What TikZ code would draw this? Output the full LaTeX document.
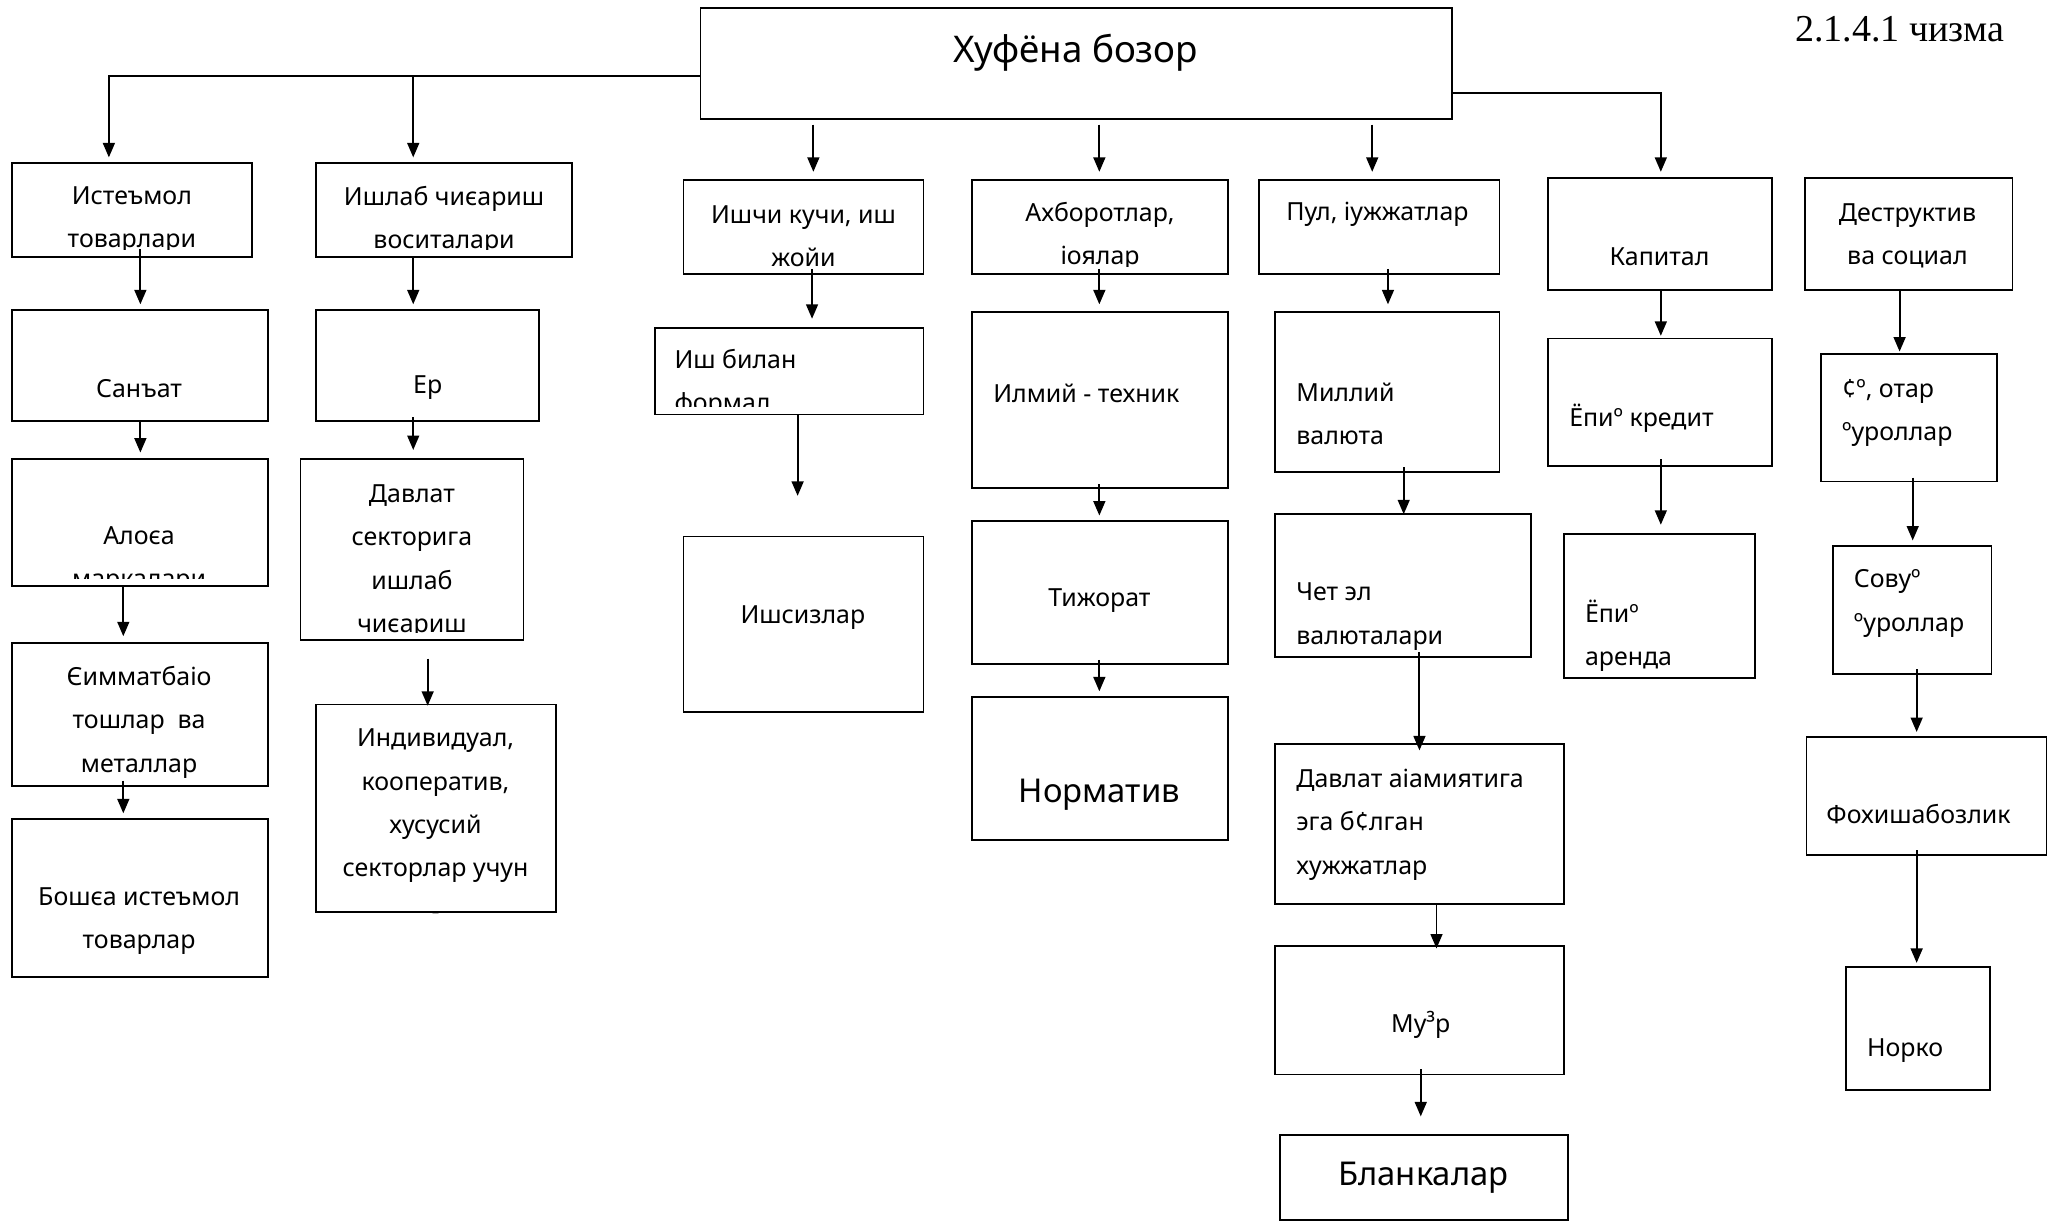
\documentclass[tikz,border=0pt]{standalone}
\usepackage{fontspec}
\setmainfont{Noto Sans}
\newfontfamily\capfont{Liberation Serif}
\usetikzlibrary{arrows.meta,calc}

\begin{document}
\begin{tikzpicture}[x=1pt, y=-1pt,
    box/.style 2 args={draw, line width=1.4pt, minimum width=#1pt, minimum height=#2pt, inner sep=0pt, outer sep=0pt},
    txt/.style={align=center, inner sep=0pt, yshift=-2.5pt, font=\fontsize{19}{33}\selectfont},
    ltxt/.style={align=left, anchor=west, inner sep=0pt, yshift=-2.5pt, font=\fontsize{19}{33}\selectfont},
    big/.style={font=\fontsize{25}{30}\selectfont},
    arr/.style={-{Triangle[length=11pt,width=9pt]}, line width=1.5pt}]
  \useasboundingbox (0,0) rectangle (1568,931);

  % boxes
  \node[box={573}{85}] (main) at (820.5,48.5) {};
  \node[box={183}{72}] (ist) at (100.5,160) {};
  \node[box={195}{72}] (ish) at (338.5,160) {};
  \node[box={183}{72}] (ishchi) at (612.5,173) {};
  \node[box={195}{72}] (axb) at (838.5,173) {};
  \node[box={183}{72}] (pul) at (1051.5,173) {};
  \node[box={171}{85}] (kap) at (1265.5,178.5) {};
  \node[box={158}{85}] (des) at (1455,178.5) {};
  \node[box={195}{85}] (san) at (106.5,278.5) {};
  \node[box={170}{85}] (er) at (326,278.5) {};
  \node[box={205}{66}] (ishb) at (601.5,283) {};
  \node[box={195}{134}] (ilm) at (838.5,305) {};
  \node[box={171}{122}] (mil) at (1057.5,299) {};
  \node[box={171}{97}] (kre) at (1265.5,306.5) {};
  \node[box={134}{97}] (oq) at (1455,318.5) {};
  \node[box={195}{97}] (alo) at (106.5,398.5) {};
  \node[box={170}{138}] (dav) at (314,419) {};
  \node[box={183}{134}] (ishs) at (612.5,476) {};
  \node[box={195}{109}] (tij) at (838.5,451.5) {};
  \node[box={195}{109}] (chet) at (1069.5,446.5) {};
  \node[box={146}{110}] (are) at (1265,462) {};
  \node[box={121}{98}] (sov) at (1457.5,465) {};
  \node[box={195}{109}] (qim) at (106.5,544.5) {};
  \node[box={183}{158}] (ind) at (332.5,616) {};
  \node[box={195}{109}] (norm) at (838.5,585.5) {};
  \node[box={220}{122}] (dah) at (1082,628) {};
  \node[box={183}{90}] (fox) at (1468.5,607) {};
  \node[box={195}{121}] (bosh) at (106.5,684.5) {};
  \node[box={220}{98}] (muh) at (1082,770) {};
  \node[box={110}{94}] (nor) at (1462,784) {};
  \node[box={219}{65}] (bla) at (1085.5,897.5) {};

  % texts
  \node[txt, font=\fontsize{28}{34}\selectfont] (main-t) at (820,37.5) {Хуфёна бозор};
  \node[font=\capfont\fontsize{29}{34}\selectfont, inner sep=0pt] (cap) at (1448,22) {2.1.4.1 чизма};
  \begin{scope}
    \clip (ist.north west) rectangle ($(ist.south east)+(0,-5.5)$);
    \node[txt] (ist-t) at (100.5,165.5) {Истеъмол\\товарлари};
  \end{scope}
  \begin{scope}
    \clip (ish.north west) rectangle ($(ish.south east)+(0,-5.5)$);
    \node[txt] (ish-t) at (338.5,165.5) {Ишлаб чиєариш\\воситалари};
  \end{scope}
  \begin{scope}
    \clip (ishchi.north west) rectangle ($(ishchi.south east)+(0,-5.5)$);
    \node[txt] (ishchi-t) at (612.5,177.5) {Ишчи кучи, иш\\жойи};
  \end{scope}
  \begin{scope}
    \clip (axb.north west) rectangle ($(axb.south east)+(0,-5.5)$);
    \node[txt] (axb-t) at (838.5,177.5) {Ахборотлар,\\іоялар};
  \end{scope}
  \node[txt] (pul-t) at (1050,161) {Пул, іужжатлар};
  \node[txt] (kap-t) at (1265,193) {Капитал};
  \node[txt] (des-t) at (1454,177.5) {Деструктив\\ва социал};
  \node[txt] (san-t) at (106,294) {Санъат};
  \node[txt] (er-t) at (326,293) {Ер};
  \begin{scope}
    \clip (ishb.north west) rectangle ($(ishb.south east)+(0,-6)$);
    \node[ltxt] (ishb-t) at (514,289.5) {Иш билан\\формал};
  \end{scope}
  \node[ltxt] (ilm-t) at (757,297) {Илмий - техник};
  \node[ltxt] (mil-t) at (988,313) {Миллий\\валюта};
  \node[ltxt] (kre-t) at (1196,316) {Ёпиº кредит};
  \node[ltxt] (oq-t) at (1404,312.5) {¢º, отар\\ºуроллар};
  \begin{scope}
    \clip (alo.north west) rectangle ($(alo.south east)+(0,-6)$);
    \node[txt] (alo-t) at (106,424.5) {Алоєа\\маркалари};
  \end{scope}
  \begin{scope}
    \clip (dav.north west) rectangle ($(dav.south east)+(0,-5.5)$);
    \node[txt] (dav-t) at (314,425.5) {Давлат\\секторига\\ишлаб\\чиєариш};
  \end{scope}
  \node[txt] (ishs-t) at (612,468) {Ишсизлар};
  \node[txt] (tij-t) at (838,455) {Тижорат};
  \node[ltxt] (chet-t) at (988,467.5) {Чет эл\\валюталари};
  \node[ltxt] (are-t) at (1208,482) {Ёпиº\\аренда};
  \node[ltxt] (sov-t) at (1413,457.5) {Совуº\\ºуроллар};
  \node[txt] (qim-t) at (106,548) {Єимматбаіо\\тошлар~ ва\\металлар};
  \node[txt] (ind-t) at (332,626) {Индивидуал,\\кооператив,\\хусусий\\секторлар учун\\-};
  \node[txt, big] (norm-t) at (838,603) {Норматив};
  \node[ltxt] (dah-t) at (988,626) {Давлат аіамиятига\\эга б¢лган\\хужжатлар};
  \node[ltxt] (fox-t) at (1392,618) {Фохишабозлик};
  \node[txt] (bosh-t) at (106,699.5) {Бошєа истеъмол\\товарлар};
  \node[txt] (muh-t) at (1083,779) {Му³р};
  \node[ltxt] (nor-t) at (1423,798) {Норко};
  \node[txt, big] (bla-t) at (1085,895) {Бланкалар};

  % connectors
  \coordinate (lft) at ($(main.west)+(0,9.5)$);
  \coordinate (brn) at ($(ish.north)+(-23.5,0)$);
  \draw[arr] (lft) -| ($(ist.north)+(-17.5,-4)$);
  \draw[arr] (lft -| brn) -- ($(brn)+(0,-4)$);
  \draw[arr] ($(main.east)+(0,22.5)$) -| ($(kap.north)+(0.5,-5)$);
  \draw[arr] ($(main.south)+(-200.5,4)$) -- ($(ishchi.north)+(7.5,-6)$);
  \draw[arr] ($(main.south)+(17.5,4)$) -- ($(axb.north)+(-0.5,-6)$);
  \draw[arr] ($(main.south)+(225.5,4)$) -- ($(pul.north)+(-5.5,-6)$);

  \draw[arr] ($(ist.south)+(6.5,-6)$) -- ($(san.north)+(0.5,-4)$);
  \draw[arr] ($(san.south)+(0.5,0)$) -- ($(alo.north)+(0.5,-5)$);
  \draw[arr] ($(alo.south)+(-12.5,0)$) -- ($(qim.north)+(-12.5,-5)$);
  \draw[arr] ($(qim.south)+(-12.5,-4)$) -- ($(bosh.north)+(-12.5,-4)$);

  \draw[arr] ($(ish.south)+(-23.5,0)$) -- ($(er.north)+(-11,-4)$);
  \draw[arr] ($(er.south)+(-11,-3)$) -- ($(dav.north)+(1,-7)$);
  \draw[arr] ($(dav.south)+(12,14)$) -- ($(ind.north)+(-6.5,1)$);

  \draw[arr] ($(ishchi.south)+(6.5,-4)$) -- ($(ishb.north)+(17.5,-7)$);
  \draw[arr] ($(ishb.south)+(6.5,0)$) -- ($(ishs.north)+(-4.5,-31)$);

  \draw[arr] ($(axb.south)+(-0.5,-4)$) -- ($(ilm.north)+(-0.5,-6)$);
  \draw[arr] ($(ilm.south)+(-0.5,-3)$) -- ($(tij.north)+(-0.5,-4)$);
  \draw[arr] ($(tij.south)+(-0.5,-3)$) -- ($(norm.north)+(-0.5,-4)$);

  \draw[arr] ($(pul.south)+(6.5,-4)$) -- ($(mil.north)+(0.5,-6)$);
  \draw[arr] ($(mil.south)+(12.5,-4)$) -- ($(chet.north)+(0.5,0)$);
  \draw[arr] ($(chet.south)+(12.5,-4)$) -- ($(dah.north)+(0,5)$);
  \draw[arr] ($(dah.south)+(13,0)$) -- ($(muh.north)+(13,2)$);
  \draw[arr] ($(muh.south)+(1,-4)$) -- ($(bla.north)+(-2.5,-14)$);

  \draw[arr] ($(kap.south)+(0.5,0)$) -- ($(kre.north)+(0.5,-2)$);
  \draw[arr] ($(kre.south)+(0.5,-5)$) -- ($(are.north)+(1,-7)$);

  \draw[arr] ($(des.south)+(-7,0)$) -- ($(oq.north)+(-7,-2)$);
  \draw[arr] ($(oq.south)+(3,-3)$) -- ($(sov.north)+(0.5,-4)$);
  \draw[arr] ($(sov.south)+(3.5,-4)$) -- ($(fox.north)+(-7.5,-4)$);
  \draw[arr] ($(fox.south)+(-7.5,-4)$) -- ($(nor.north)+(-1,-3)$);
\end{tikzpicture}
\end{document}
